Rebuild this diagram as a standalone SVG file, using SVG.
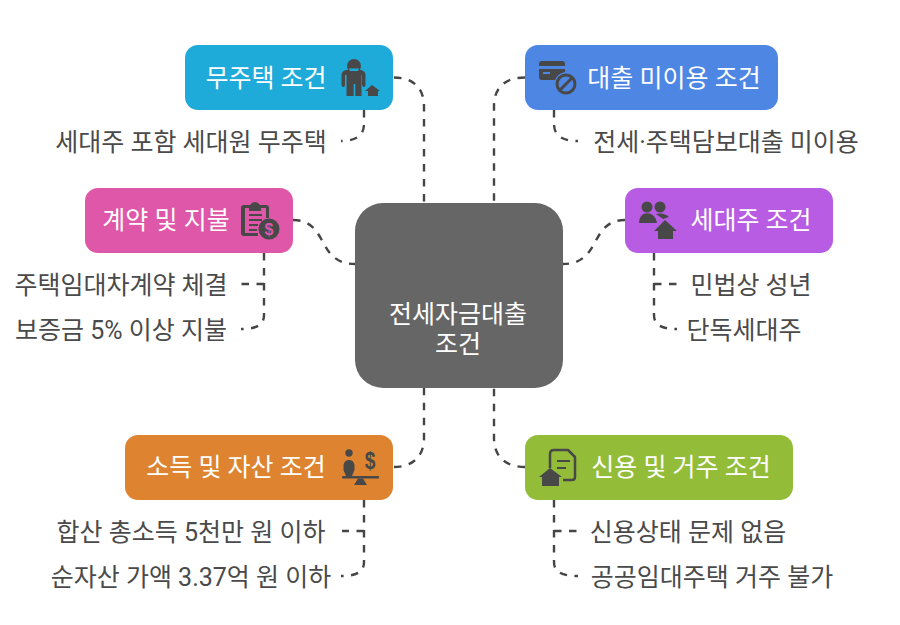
<svg xmlns="http://www.w3.org/2000/svg" width="900" height="625" viewBox="0 0 900 625">
<style>
text{font-family:Roboto,"Noto Sans CJK KR",sans-serif;font-size:25px;text-anchor:middle}
.n{fill:#fff}
.s{fill:#4a4a4a}
.c{fill:none;stroke:#454545;stroke-width:2.400;stroke-dasharray:7.500 7.500}
.i{fill:#484848}
.l{fill:none;stroke:#484848;stroke-width:2}
</style>
<rect width="900" height="625" fill="#fff"/>
<g id="connectors">
<path class="c" d="M394 77.500C413 77.500 424 88 424 106V203"/>
<path class="c" d="M525 77.500C505 77.500 494 88 494 106V203"/>
<path class="c" d="M293 220C329 220 316 264 355 264"/>
<path class="c" d="M625 220C589 220 602 264 563 264"/>
<path class="c" d="M394 467C413 467 424 456 424 438V388"/>
<path class="c" d="M525 467C505 467 494 456 494 438V388"/>
<path class="c" d="M364 110V124C364 134 358 141 341 141"/>
<path class="c" d="M554 110V124C554 134 560 141 578 141"/>
<path class="c" d="M264 253V315C264 324 258 329 241 329"/>
<path class="c" d="M264 284H241"/>
<path class="c" d="M654 253V315C654 324 660 329 677 329"/>
<path class="c" d="M654 284H677"/>
<path class="c" d="M364 500V562C364 571 358 576 341 576"/>
<path class="c" d="M364 531H342"/>
<path class="c" d="M554 500V562C554 571 560 576 578 576"/>
<path class="c" d="M554 531H577"/>
</g>
<g id="center"><rect x="355" y="203" width="208" height="185" rx="28" fill="#666"/><text class="n" x="458" y="322.500">전세자금대출</text><text class="n" x="458" y="352.500">조건</text></g>
<g id="node-housing"><rect x="185" y="45" width="208" height="65" rx="13" fill="#1eabda"/><text class="n" x="266" y="87">무주택 조건</text>
<circle class="i" cx="354" cy="66" r="7"/><path class="i" d="M341.500 75Q341.500 71 346 70H361Q365.500 71 365.500 75V85Q365.500 87 364 87T362 85V75H361.500V96H355.300V84H353.700V96H346.500V75H345V85Q345 87 343.300 87T341.500 85Z"/><path class="i" d="M372 85L380 91H378V96H368V91H365Z"/><path d="M349 68.500H359L358 71H350Z" fill="#1eabda"/></g>
<g id="node-loan"><rect x="525" y="45" width="253" height="65" rx="13" fill="#4e86e4"/><text class="n" x="674" y="87">대출 미이용 조건</text>
<path class="i" d="M542 61H562Q565 61 565 64V66H539V64Q539 61 542 61ZM539 69H565V72Q558 73 555 80H542Q539 80 539 77ZM543 72V74H550V72Z"/><circle cx="566" cy="84" r="9" fill="none" stroke="#484848" stroke-width="3"/><path class="l" style="stroke-width:3" d="M560 90L572 78"/></g>
<g id="node-contract"><rect x="85" y="188" width="208" height="65" rx="13" fill="#de57a8"/><text class="n" x="166" y="229">계약 및 지불</text>
<path class="i" fill-rule="evenodd" d="M244 205H250Q252 202 255 202T260 205H266Q269 205 269 208V218H266V208H261V211H249V208H245V233H258V236H244Q241 236 241 233V208Q241 205 244 205Z"/><path class="i" d="M249 214H262V216H249ZM249 219H262V221H249ZM249 224H258V226H249ZM249 229H257V231H249Z"/><circle class="i" cx="269" cy="229" r="10.500"/><text x="269" y="235" style="font-size:16px;font-weight:700;fill:#de57a8;font-family:'Liberation Sans',sans-serif">$</text></g>
<g id="node-household"><rect x="625" y="188" width="208" height="65" rx="13" fill="#b75ce3"/><text class="n" x="751" y="229">세대주 조건</text>
<circle class="i" cx="647" cy="207" r="5.500"/><circle class="i" cx="660" cy="207" r="5.500"/><path class="i" d="M639 223C639 210 655 210 657 223Z"/><path class="i" d="M656 214Q664 212 669 217L663 219Z"/><path class="i" d="M665 220L677 231H673V239H658V231H654Z"/></g>
<g id="node-income"><rect x="125" y="435" width="268" height="65" rx="13" fill="#de8431"/><text class="n" x="236" y="476">소득 및 자산 조건</text>
<circle class="i" cx="349" cy="453" r="3.700"/><path class="i" d="M343.500 466C343.500 458 354.500 458 354.500 466V470L352 476H346L343.500 470Z"/><rect class="i" x="342" y="476" width="37" height="2.500" rx="1"/><path class="i" d="M354 485L358 478.500H363L367 485Z"/><text transform="translate(370 469) scale(.8 1)" x="0" y="0" style="font-size:24px;font-weight:700;fill:#484848;font-family:'Liberation Sans',sans-serif">$</text></g>
<g id="node-credit"><rect x="525" y="435" width="268" height="65" rx="13" fill="#93bd39"/><text class="n" x="681" y="476">신용 및 거주 조건</text>
<path class="l" stroke-linejoin="round" style="stroke-width:2.500" d="M550 468V454Q550 450 554 450H568L575 457V477Q575 480 572 480H563"/><path class="l" d="M557 461H570M557 468H566"/><path class="i" d="M550 468L562 477H559V486H542V477H539Z"/></g>
<g id="labels"><text class="s" x="191" y="150.500">세대주 포함 세대원 무주택</text>
<text class="s" x="726" y="150.500">전세·주택담보대출 미이용</text>
<text class="s" x="121" y="293.500">주택임대차계약 체결</text>
<text class="s" x="121" y="338.500">보증금 5% 이상 지불</text>
<text class="s" x="751" y="293.500">민법상 성년</text>
<text class="s" x="744" y="338.500">단독세대주</text>
<text class="s" x="191" y="540.500">합산 총소득 5천만 원 이하</text>
<text class="s" x="191" y="585.500">순자산 가액 3.37억 원 이하</text>
<text class="s" x="688" y="540.500">신용상태 문제 없음</text>
<text class="s" x="712" y="585.500">공공임대주택 거주 불가</text></g>
</svg>
